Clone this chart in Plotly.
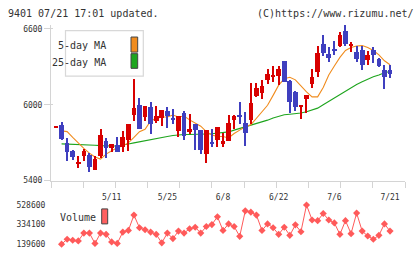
import numpy as np
import plotly.graph_objects as go

# ---------------- data ----------------
dates = ['4/21', '4/22', '4/25', '4/26', '4/27', '4/28', '5/2', '5/6', '5/9', '5/10',
         '5/11', '5/12', '5/13', '5/16', '5/17', '5/18', '5/19', '5/20', '5/23', '5/24',
         '5/25', '5/26', '5/27', '5/30', '5/31', '6/1', '6/2', '6/3', '6/6', '6/7',
         '6/8', '6/9', '6/10', '6/13', '6/14', '6/15', '6/16', '6/17', '6/20', '6/21',
         '6/22', '6/23', '6/24', '6/27', '6/28', '6/29', '6/30', '7/1', '7/4', '7/5',
         '7/6', '7/7', '7/8', '7/11', '7/12', '7/13', '7/14', '7/15', '7/19', '7/20',
         '7/21']

label_dates = ['5/11', '5/25', '6/8', '6/22', '7/6', '7/21']

opens = [5823, 5841, 5694, 5632, 5535, 5596, 5599, 5487, 5594, 5710,
         5658, 5679, 5666, 5720, 5916, 5994, 5906, 5981, 5875, 5898,
         5952, 5895, 5789, 5934, 5785, 5849, 5797, 5611, 5702, 5723,
         5686, 5712, 5878, 5921, 5857, 5878, 6068, 6089, 6192, 6223,
         6231, 6345, 6184, 6097, 5983, 6045, 6161, 6262, 6484, 6399,
         6445, 6461, 6585, 6463, 6417, 6430, 6355, 6430, 6360, 6275,
         6275]
highs = [5823, 5867, 5735, 5642, 5594, 5650, 5617, 5597, 5810, 5735,
         5686, 5741, 5795, 5849, 6205, 6050, 5988, 6019, 5991, 5960,
         5981, 5965, 5909, 5952, 5926, 5849, 5797, 5797, 5810, 5826,
         5779, 5921, 5921, 6019, 5942, 6174, 6172, 6192, 6283, 6303,
         6308, 6345, 6192, 6107, 5996, 6081, 6283, 6463, 6554, 6455,
         6507, 6577, 6631, 6499, 6463, 6463, 6424, 6455, 6373, 6314,
         6314]
lows = [5823, 5720, 5553, 5565, 5501, 5553, 5466, 5487, 5580, 5580,
        5622, 5627, 5625, 5630, 5870, 5805, 5875, 5772, 5857, 5831,
        5818, 5844, 5746, 5720, 5772, 5642, 5607, 5542, 5663, 5663,
        5669, 5712, 5805, 5844, 5676, 5844, 6058, 6043, 6166, 6180,
        6153, 6177, 5934, 5952, 5890, 5934, 6136, 6223, 6386, 6339,
        6391, 6455, 6468, 6420, 6339, 6277, 6316, 6334, 6300, 6128,
        6213]
closes = [5823, 5727, 5628, 5586, 5545, 5632, 5508, 5570, 5764, 5658,
          5686, 5627, 5748, 5849, 5973, 5806, 5988, 5844, 5911, 5960,
          5911, 5880, 5909, 5751, 5810, 5797, 5638, 5797, 5686, 5826,
          5710, 5857, 5913, 5903, 5779, 6012, 6133, 6151, 6244, 6236,
          6283, 6177, 6022, 5983, 5996, 6081, 6218, 6406, 6406, 6368,
          6430, 6554, 6484, 6484, 6360, 6316, 6391, 6393, 6308, 6223,
          6244]

# moving averages and volume, as drawn (from the 2nd date on)
ma5 = [5793, 5787, 5741, 5694, 5655, 5617, 5586, 5570, 5609, 5636,
       5659, 5675, 5698, 5741, 5787, 5806, 5872, 5892, 5903, 5903,
       5919, 5903, 5911, 5880, 5853, 5830, 5787, 5760, 5748, 5748,
       5737, 5772, 5799, 5826, 5841, 5895, 5950, 5996, 6074, 6155,
       6205, 6217, 6197, 6147, 6101, 6062, 6062, 6136, 6236, 6306,
       6375, 6430, 6453, 6465, 6468, 6453, 6430, 6395, 6348, 6317]
ma25 = [5690, 5689, 5688, 5686, 5686, 5685, 5679, 5676, 5673, 5673,
        5673, 5679, 5689, 5698, 5707, 5717, 5725, 5733, 5741, 5748,
        5756, 5762, 5764, 5764, 5764, 5764, 5768, 5770, 5773, 5779,
        5785, 5799, 5812, 5823, 5836, 5852, 5865, 5878, 5895, 5909,
        5921, 5925, 5929, 5934, 5944, 5959, 5973, 6000, 6027, 6053,
        6079, 6107, 6133, 6160, 6182, 6203, 6221, 6236, 6253, 6263]
volume = [139600, 188200, 178500, 171700, 249500, 249500, 146400, 249500, 236850, 162000,
          146400, 259200, 275750, 428400, 302000, 282600, 259200, 236850, 152200, 249500,
          195000, 269000, 249500, 292300, 307800, 249500, 314700, 334100, 411900, 275750,
          340900, 314700, 217400, 470250, 457600, 428400, 275750, 340900, 302000, 236850,
          307800, 227100, 331200, 263100, 528600, 379800, 373000, 444000, 379800, 350600,
          236850, 373000, 243600, 447900, 269000, 220300, 188200, 227100, 340900, 269000]

price_ticks = [5400, 6000, 6600]
vol_ticks = [139600, 334100, 528600]

# ---------------- layout geometry ----------------
W, H = 420, 259
LM, RM, TM, BM = 51, 15, 25, 4
PW, PH = W - LM - RM, H - TM - BM


def fx(px):
    return (px - LM) / PW


def fy(py):
    return (H - BM - py) / PH


idx = list(range(len(dates)))
ma_idx = idx[1:]
x0c, dx = 56.0, 5.567          # first candle centre px, px per day
xr = [(LM - x0c) / dx, (W - RM - x0c) / dx]
yr = [5400, 6631]
vr = [81250, 586950]

RED = '#d80000'
BLUE = '#3f3fbf'
ORANGE = '#f08c1e'
GREEN = '#1ea51e'
VOLC = '#ff5a5a'
AX = '#d4d4d4'
TXT = '#333333'
FONT = 'DejaVu Sans Mono'

colors = [RED if c >= o else BLUE for o, c in zip(opens, closes)]
body_base = [min(o, c) for o, c in zip(opens, closes)]
body_h = [max(abs(c - o), 12) for o, c in zip(opens, closes)]
wick_h = [h - l for h, l in zip(highs, lows)]

fig = go.Figure()

# moving averages on the base axes (drawn beneath candles)
fig.add_trace(go.Scatter(x=ma_idx, y=ma25, mode='lines',
                         line=dict(color=GREEN, width=1.1), xaxis='x', yaxis='y',
                         hoverinfo='skip'))
fig.add_trace(go.Scatter(x=ma_idx, y=ma5, mode='lines',
                         line=dict(color=ORANGE, width=1.1), xaxis='x', yaxis='y',
                         hoverinfo='skip'))

# candles on overlay axes
fig.add_trace(go.Bar(x=idx, y=wick_h, base=lows, width=0.19,
                     marker=dict(color=colors, line=dict(width=0)),
                     xaxis='x3', yaxis='y3'))
fig.add_trace(go.Bar(x=idx, y=body_h, base=body_base, width=0.84,
                     marker=dict(color=colors, line=dict(width=0)),
                     xaxis='x3', yaxis='y3'))

# volume
fig.add_trace(go.Scatter(x=ma_idx, y=volume, mode='lines+markers',
                         line=dict(color=VOLC, width=1),
                         marker=dict(symbol='diamond', size=5.5, color=VOLC,
                                     line=dict(width=0)),
                         xaxis='x2', yaxis='y2'))

tick_positions = list(np.linspace(xr[0], xr[1], 12))
label_pos = [dates.index(d) for d in label_dates]

fig.update_layout(
    width=W, height=H,
    margin=dict(l=LM, r=RM, t=TM, b=BM),
    paper_bgcolor='white', plot_bgcolor='rgba(0,0,0,0)',
    showlegend=False, barmode='overlay', bargap=0,
    xaxis=dict(domain=[0, 1], range=xr, anchor='y', tickmode='array',
               tickvals=tick_positions, showticklabels=False,
               ticks='outside', ticklen=6, tickcolor=AX, tickwidth=1,
               showline=True, linecolor=AX, linewidth=1,
               showgrid=False, zeroline=False, fixedrange=True),
    yaxis=dict(domain=[fy(184), 1], range=yr, anchor='x', tickmode='array',
               tickvals=price_ticks, ticktext=[str(v) for v in price_ticks],
               ticks='outside', ticklen=6, tickcolor=AX, tickwidth=1,
               showline=True, linecolor=AX, linewidth=1,
               tickfont=dict(family=FONT, size=8, color=TXT),
               showgrid=False, zeroline=False, fixedrange=True),
    xaxis3=dict(overlaying='x', range=xr, anchor='y3', tickmode='array',
                tickvals=label_pos, ticktext=label_dates,
                ticks='outside', ticklen=9, tickcolor='rgba(0,0,0,0)',
                tickfont=dict(family=FONT, size=8, color=TXT),
                showline=False, showgrid=False, zeroline=False, fixedrange=True),
    yaxis3=dict(overlaying='y', range=yr, anchor='x3', tickmode='array',
                tickvals=price_ticks, showticklabels=False,
                ticks='inside', ticklen=2, tickcolor=AX,
                showline=False, showgrid=False, zeroline=False, fixedrange=True),
    xaxis2=dict(domain=[0, 1], range=xr, anchor='y2', visible=False,
                fixedrange=True),
    yaxis2=dict(domain=[0, fy(203)], range=vr, anchor='x2', tickmode='array',
                tickvals=vol_ticks, ticktext=[str(v) for v in vol_ticks],
                ticks='outside', ticklen=3, tickcolor='rgba(0,0,0,0)',
                tickfont=dict(family=FONT, size=8, color=TXT),
                showline=False, showgrid=False, zeroline=False, fixedrange=True),
)

shapes = [
    # price legend box
    dict(type='rect', xref='paper', yref='paper',
         x0=fx(65.5), x1=fx(143.3), y0=fy(77.3), y1=fy(30.7),
         line=dict(color='#d8d8d8', width=1.2), fillcolor='white', layer='above'),
    dict(type='rect', xref='paper', yref='paper',
         x0=fx(131), x1=fx(137.7), y0=fy(52.7), y1=fy(37.3),
         line=dict(color='#444444', width=1), fillcolor=ORANGE, layer='above'),
    dict(type='rect', xref='paper', yref='paper',
         x0=fx(131), x1=fx(137.7), y0=fy(69.3), y1=fy(54.3),
         line=dict(color='#444444', width=1), fillcolor=GREEN, layer='above'),
    # volume legend swatch
    dict(type='rect', xref='paper', yref='paper',
         x0=fx(101.7), x1=fx(107.7), y0=fy(228.3), y1=fy(213),
         line=dict(color='#444444', width=1), fillcolor='#ff6060', layer='above'),
]

annotations = [
    dict(text='9401 07/21 17:01 updated.', xref='paper', yref='paper',
         x=fx(6), y=fy(13), xanchor='left', yanchor='middle', showarrow=False,
         font=dict(family=FONT, size=10, color=TXT)),
    dict(text='(C)https://www.rizumu.net/', xref='paper', yref='paper',
         x=fx(416), y=fy(13), xanchor='right', yanchor='middle', showarrow=False,
         font=dict(family=FONT, size=10, color=TXT)),
    dict(text='5-day MA', xref='paper', yref='paper',
         x=fx(108), y=fy(46.3), xanchor='right', yanchor='middle', showarrow=False,
         font=dict(family=FONT, size=10, color=TXT)),
    dict(text='25-day MA', xref='paper', yref='paper',
         x=fx(108), y=fy(63.3), xanchor='right', yanchor='middle', showarrow=False,
         font=dict(family=FONT, size=10, color=TXT)),
    dict(text='Volume', xref='paper', yref='paper',
         x=fx(58), y=fy(221.7), xanchor='left', yanchor='middle', showarrow=False,
         font=dict(family=FONT, size=10, color=TXT)),
]

fig.update_layout(shapes=shapes, annotations=annotations)

fig.write_html('out.html')
